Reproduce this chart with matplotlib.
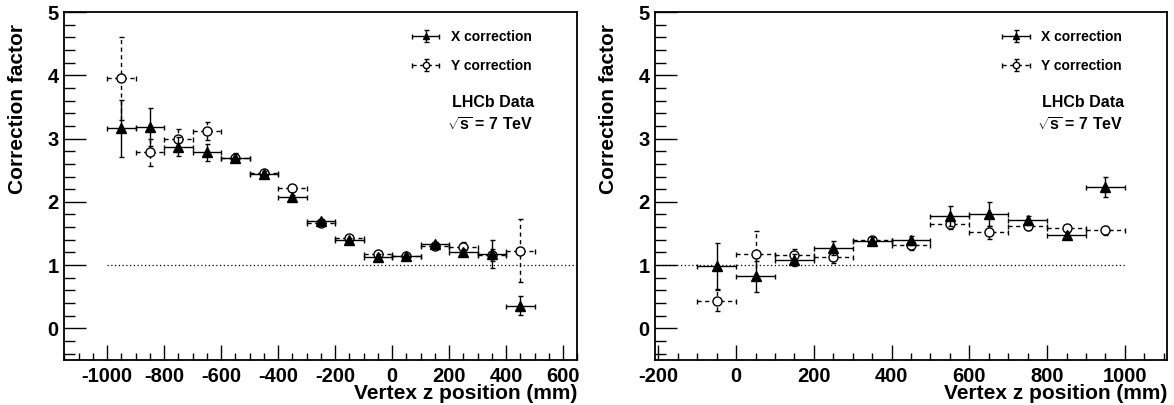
import matplotlib
matplotlib.use("Agg")
import matplotlib.pyplot as plt
from matplotlib.ticker import MultipleLocator
from matplotlib.legend_handler import HandlerErrorbar

plt.rcParams['font.family'] = ['Liberation Sans', 'DejaVu Sans']
plt.rcParams['font.weight'] = 'bold'
plt.rcParams['mathtext.fontset'] = 'custom'
plt.rcParams['mathtext.rm'] = 'Liberation Sans:bold'
plt.rcParams['mathtext.bf'] = 'Liberation Sans:bold'
plt.rcParams['axes.unicode_minus'] = False

# ---- data ----
z_left = [-950, -850, -750, -650, -550, -450, -350, -250, -150, -50, 50, 150, 250, 350, 450]
left_x = [3.16, 3.19, 2.87, 2.78, 2.70, 2.44, 2.07, 1.70, 1.40, 1.13, 1.14, 1.33, 1.21, 1.18, 0.36]
left_x_err = [0.45, 0.30, 0.15, 0.13, 0.07, 0.05, 0.03, 0.03, 0.03, 0.04, 0.03, 0.04, 0.05, 0.22, 0.15]
left_y = [3.95, 2.78, 3.00, 3.12, 2.69, 2.46, 2.22, 1.67, 1.43, 1.18, 1.14, 1.30, 1.28, 1.16, 1.23]
left_y_err = [0.66, 0.22, 0.15, 0.14, 0.06, 0.05, 0.05, 0.03, 0.03, 0.04, 0.03, 0.04, 0.08, 0.10, 0.50]

z_right = [-50, 50, 150, 250, 350, 450, 550, 650, 750, 850, 950]
right_x = [0.99, 0.82, 1.08, 1.27, 1.38, 1.39, 1.78, 1.80, 1.71, 1.48, 2.24]
right_x_err = [0.36, 0.25, 0.10, 0.11, 0.06, 0.07, 0.16, 0.19, 0.07, 0.05, 0.16]
right_y = [0.44, 1.18, 1.16, 1.12, 1.40, 1.31, 1.65, 1.52, 1.62, 1.58, 1.55]
right_y_err = [0.16, 0.36, 0.09, 0.08, 0.05, 0.07, 0.08, 0.10, 0.06, 0.05, 0.07]

bin_half_width = 50
labels = ["X correction", "Y correction"]
ylabel = "Correction factor"
xlabel = "Vertex z position (mm)"
ref_value = 1

W, H = 1174, 405
fig = plt.figure(figsize=(W / 100, H / 100), dpi=100)

def px_axes(x0, y0, x1, y1):
    return fig.add_axes([x0 / W, 1 - y1 / H, (x1 - x0) / W, (y1 - y0) / H])

ax1 = px_axes(64.3, 12, 577.3, 360)
ax2 = px_axes(655, 12, 1167.3, 360)

panels = [
    (ax1, z_left, left_x, left_x_err, left_y, left_y_err, (-1150, 650), (-1000, 650)),
    (ax2, z_right, right_x, right_x_err, right_y, right_y_err, (-208.5, 1109), (-200, 1000)),
]

for ax, z, xv, xe, yv, ye, xlim, refr in panels:
    ax.plot(refr, [ref_value, ref_value], color='black', lw=0.9, ls=(0, (1, 2)), zorder=1)
    hw = [bin_half_width] * len(z)
    c1 = ax.errorbar(z, xv, yerr=xe, xerr=hw, fmt='^', color='black', ms=6.5,
                     elinewidth=1.0, capsize=1.8, capthick=1.0, zorder=3, label=labels[0])
    c2 = ax.errorbar(z, yv, yerr=ye, xerr=hw, fmt='o', color='black', mfc='white', mec='black',
                     mew=1.0, ms=6.5, elinewidth=1.0, capsize=1.8, capthick=1.0, zorder=2,
                     label=labels[1])
    for lc in c2[2]:
        lc.set_linestyle((0, (3, 2.5)))
    ax.set_xlim(*xlim)
    ax.set_ylim(-0.5, 5)
    ax.xaxis.set_major_locator(MultipleLocator(200))
    ax.xaxis.set_minor_locator(MultipleLocator(50))
    ax.yaxis.set_major_locator(MultipleLocator(1))
    ax.yaxis.set_minor_locator(MultipleLocator(0.2))
    ax.tick_params(axis='x', which='major', direction='in', length=11, width=1.0, pad=5,
                   labelsize=14.5, top=False)
    ax.tick_params(axis='x', which='minor', direction='in', length=5, width=1.0, top=False)
    ax.tick_params(axis='y', which='major', direction='in', length=16, width=1.0, pad=4,
                   labelsize=14.5, right=False)
    ax.tick_params(axis='y', which='minor', direction='in', length=8, width=1.0, right=False)
    for lab in ax.get_xticklabels() + ax.get_yticklabels():
        lab.set_fontweight('bold')
    for s in ax.spines.values():
        s.set_linewidth(1.3)
    ax.set_ylabel(ylabel, fontsize=15, fontweight='bold', loc='top')
    ax.yaxis.set_label_coords(-0.072, 0.965)
    ax.set_xlabel(xlabel, fontsize=15, fontweight='bold', loc='right')
    ax.xaxis.set_label_coords(1.0, -0.07)
    ax.legend(loc='upper right', bbox_to_anchor=(0.935, 0.985), frameon=False,
              prop={'weight': 'bold', 'size': 10}, handlelength=2.6,
              handletextpad=0.5, labelspacing=1.1, markerscale=0.7,
              handler_map={type(c1): HandlerErrorbar(xerr_size=1.0, yerr_size=0.45)})
    ax.text(0.915, 0.74, "LHCb Data", transform=ax.transAxes, ha='right', va='center',
            fontsize=11.5, fontweight='bold')
    ax.text(0.915, 0.675, r"$\sqrt{\mathrm{s}}$ = 7 TeV", transform=ax.transAxes, ha='right',
            va='center', fontsize=11.5, fontweight='bold')

fig.savefig("out.png", dpi=100)
